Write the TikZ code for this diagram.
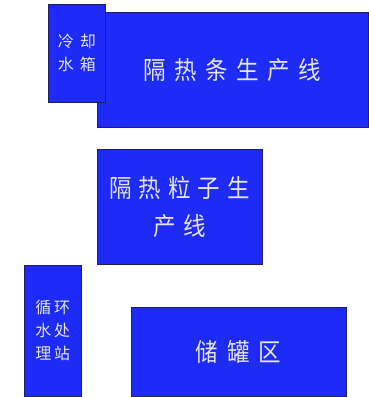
\documentclass[tikz,border=0pt]{standalone}
\usepackage{fontspec}
\newfontfamily\cjk{Noto Sans CJK SC}
\newfontfamily\cjknarrow[FakeStretch=0.9]{Noto Sans CJK SC}
\definecolor{boxblue}{RGB}{30,42,245}
\definecolor{boxline}{RGB}{30,30,100}
\definecolor{boxtext}{RGB}{228,228,242}
\tikzset{
  area/.style={draw=boxline, line width=0.9pt, fill=boxblue, anchor=north west,
    inner sep=0pt, text=boxtext, align=center},
  bigtext/.style={font=\cjknarrow\fontsize{25}{38}\selectfont},
  smalltext/.style={font=\cjk\fontsize{16}{23}\selectfont}
}
\begin{document}
\begin{tikzpicture}[x=1pt,y=-1pt]
\useasboundingbox (0,0) rectangle (369,397);
\node[area, bigtext, minimum width=271pt, minimum height=114.5pt] (strip) at (96.7,12.3)
  {隔\kern8.5pt 热\kern8.5pt 条\kern8.5pt 生\kern8.5pt 产\kern8.5pt 线};
\node[area, smalltext, minimum width=57pt, minimum height=98.5pt] (tank) at (47.8,3.5)
  {冷\kern6pt 却\\水\kern6pt 箱};
\node[area, bigtext, minimum width=165pt, minimum height=115pt] (particle) at (96.7,149.2)
  {隔\kern7pt 热\kern7pt 粒\kern7pt 子\kern7pt 生\\产\kern7pt 线};
\node[area, smalltext, minimum width=57pt, minimum height=131pt] (water) at (23.8,264.5)
  {循\kern3pt 环\\水\kern3pt 处\\理\kern3pt 站};
\node[area, bigtext, minimum width=214.5pt, minimum height=89pt] (storage) at (131,306.8)
  {储\kern9pt 罐\kern9pt 区};
\end{tikzpicture}
\end{document}
